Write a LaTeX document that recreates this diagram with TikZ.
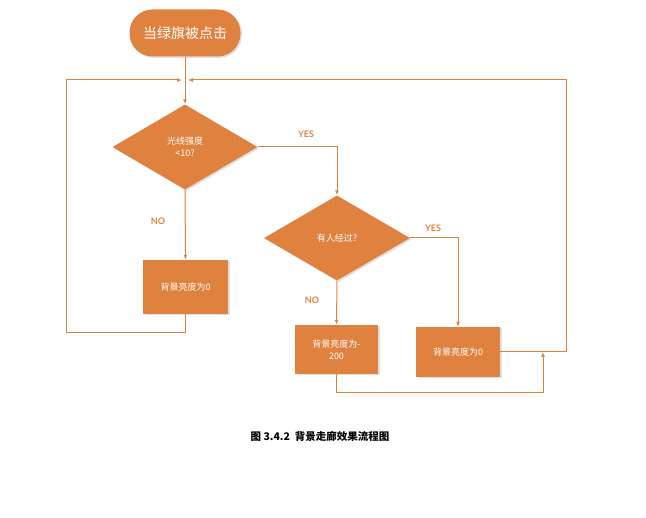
\documentclass[tikz,border=0pt]{standalone}
\usepackage{fontspec}
\setmainfont{Lato}
\newfontfamily\cjk{Noto Sans CJK SC}
\usetikzlibrary{shapes.geometric,arrows.meta,shadows}
\definecolor{org}{HTML}{E0823F}
\begin{document}
\begin{tikzpicture}[x=1pt,y=-1pt,
  box/.style={fill=org,draw=none,text=white,font=\cjk\fontsize{9}{12}\selectfont,align=center,drop shadow={shadow xshift=1.5pt,shadow yshift=-1.5pt,opacity=0.25}},
  dia/.style={box,diamond,aspect=1.7,inner sep=0pt},
  ln/.style={draw=org,line width=1pt},
  ar/.style={ln,-{Latex[length=5pt,width=4pt]}},
  lab/.style={text=org,font=\bfseries\fontsize{9}{11}\selectfont}]
\useasboundingbox (0,0) rectangle (646,518);
\node[box,rounded corners=23pt,minimum width=111pt,minimum height=47pt,font=\cjk\fontsize{14}{16}\selectfont] (s) at (185,33) {当绿旗被点击};
\node[dia,minimum width=145pt,minimum height=85pt] (d1) at (185,147) {光线强度\\<10?};
\node[dia,minimum width=146pt,minimum height=85pt] (d2) at (337,238) {有人经过?};
\node[box,minimum width=85pt,minimum height=54pt] (b1) at (185.5,287) {背景亮度为0};
\node[box,minimum width=83pt,minimum height=49pt] (b2) at (336.5,349.5) {背景亮度为-\\200};
\node[box,minimum width=84pt,minimum height=50pt] (b3) at (458,352) {背景亮度为0};
\coordinate (jl) at (182,80);
\coordinate (jr) at (188,80);
\coordinate (jb) at (543,352);
\draw[ar] (s.south) -- (d1.north);
\draw[ar] (d1.east) -| (d2.north);
\draw[ar] (d1.south) -- (b1.north);
\draw[ar] (d2.east) -| (b3.north);
\draw[ar] (d2.south) -- (b2.north);
\draw[ar] (b1.south) -- ++(0,18) -| (66,80) -- (jl);
\draw[ar] (b3.east) -| (566,80) -- (jr);
\draw[ar] (b2.south) -- ++(0,18) -| (jb);
\node[lab] (y1) at (306,134) {YES};
\node[lab] (y2) at (433,228) {YES};
\node[lab] (n1) at (158,221) {NO};
\node[lab] (n2) at (312,300) {NO};
\node[font=\cjk\bfseries\fontsize{10.5}{12}\selectfont] (cap) at (320,436) {图 3.4.2\ \ 背景走廊效果流程图};
\end{tikzpicture}
\end{document}
